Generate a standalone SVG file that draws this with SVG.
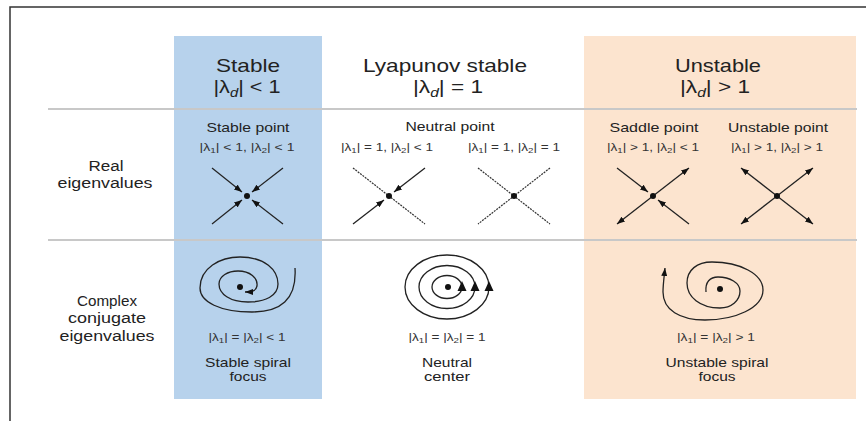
<svg xmlns="http://www.w3.org/2000/svg" width="866" height="421" viewBox="0 0 866 421">
<style>
text{font-family:"Liberation Sans",Arial,sans-serif;fill:#222;text-anchor:middle}
.h{font-size:19px}
.t{font-size:13px}
.l{font-size:10.5px;fill:#333}
.s{font-size:7.5px}
.side{font-size:14px}
.ln{stroke:#222;stroke-width:1.3;fill:none}
.dt{stroke:#333;stroke-width:1.2;stroke-dasharray:2 1;fill:none}
.sep{stroke:#c8c8c8;stroke-width:2}
.dot{fill:#111}
</style>
<defs>
<marker id="ah" markerUnits="userSpaceOnUse" markerWidth="8" markerHeight="6" refX="8" refY="3" orient="auto">
<path d="M0,0 L8,3 L0,6 z" fill="#111"/>
</marker>
</defs>
<rect width="866" height="421" fill="#fff"/>
<path d="M10,421 V7 H866" fill="none" stroke="#333" stroke-width="1.5"/>
<rect x="174" y="36" width="148" height="363" fill="#b7d2ec"/>
<rect x="584" y="36" width="272" height="363" fill="#fce4cf"/>
<line class="sep" x1="48" y1="109" x2="857" y2="109"/>
<line class="sep" x1="48" y1="240" x2="857" y2="240"/>

<g id="headers">
<text class="h" x="248" y="72" textLength="64" lengthAdjust="spacingAndGlyphs">Stable</text>
<text class="h" x="247" y="93" textLength="67" lengthAdjust="spacingAndGlyphs">|λ<tspan font-size="13" font-style="italic" dy="4">d</tspan><tspan dy="-4">| &lt; 1</tspan></text>
<text class="h" x="445" y="72" textLength="164" lengthAdjust="spacingAndGlyphs">Lyapunov stable</text>
<text class="h" x="448" y="93" textLength="70" lengthAdjust="spacingAndGlyphs">|λ<tspan font-size="13" font-style="italic" dy="4">d</tspan><tspan dy="-4">| = 1</tspan></text>
<text class="h" x="718" y="72" textLength="86" lengthAdjust="spacingAndGlyphs">Unstable</text>
<text class="h" x="715" y="93" textLength="70" lengthAdjust="spacingAndGlyphs">|λ<tspan font-size="13" font-style="italic" dy="4">d</tspan><tspan dy="-4">| &gt; 1</tspan></text>
</g>

<g id="row-labels">
<text class="side" x="106" y="171" textLength="35" lengthAdjust="spacingAndGlyphs">Real</text>
<text class="side" x="105" y="188" textLength="95" lengthAdjust="spacingAndGlyphs">eigenvalues</text>
<text class="side" x="107" y="306" textLength="60" lengthAdjust="spacingAndGlyphs">Complex</text>
<text class="side" x="107" y="323" textLength="78" lengthAdjust="spacingAndGlyphs">conjugate</text>
<text class="side" x="107" y="341" textLength="95" lengthAdjust="spacingAndGlyphs">eigenvalues</text>
</g>

<g id="stable-point">
<text class="t" x="248" y="132" textLength="83" lengthAdjust="spacingAndGlyphs">Stable point</text>
<text class="l" x="247" y="151" textLength="95" lengthAdjust="spacingAndGlyphs">|λ<tspan class="s" dy="2">1</tspan><tspan dy="-2">| &lt; 1, |λ</tspan><tspan class="s" dy="2">2</tspan><tspan dy="-2">| &lt; 1</tspan></text>
<line class="ln" x1="212" y1="168" x2="242" y2="192" marker-end="url(#ah)"/>
<line class="ln" x1="283" y1="168" x2="252" y2="192" marker-end="url(#ah)"/>
<line class="ln" x1="212" y1="224" x2="242" y2="200" marker-end="url(#ah)"/>
<line class="ln" x1="283" y1="224" x2="252" y2="200" marker-end="url(#ah)"/>
<circle class="dot" cx="247" cy="196" r="3"/>
</g>

<g id="neutral-point">
<text class="t" x="450" y="131" textLength="89" lengthAdjust="spacingAndGlyphs">Neutral point</text>
<text class="l" x="387" y="151" textLength="92" lengthAdjust="spacingAndGlyphs">|λ<tspan class="s" dy="2">1</tspan><tspan dy="-2">| = 1, |λ</tspan><tspan class="s" dy="2">2</tspan><tspan dy="-2">| &lt; 1</tspan></text>
<text class="l" x="514" y="151" textLength="92" lengthAdjust="spacingAndGlyphs">|λ<tspan class="s" dy="2">1</tspan><tspan dy="-2">| = 1, |λ</tspan><tspan class="s" dy="2">2</tspan><tspan dy="-2">| = 1</tspan></text>
<line class="dt" x1="353" y1="168" x2="425" y2="224"/>
<line class="ln" x1="425" y1="168" x2="394" y2="192" marker-end="url(#ah)"/>
<line class="ln" x1="353" y1="224" x2="384" y2="200" marker-end="url(#ah)"/>
<circle class="dot" cx="389" cy="196" r="3"/>
<line class="dt" x1="478" y1="168" x2="550" y2="224"/>
<line class="dt" x1="550" y1="168" x2="478" y2="224"/>
<circle class="dot" cx="514" cy="196" r="3"/>
</g>

<g id="saddle-point">
<text class="t" x="654" y="132" textLength="89" lengthAdjust="spacingAndGlyphs">Saddle point</text>
<text class="l" x="653" y="151" textLength="92" lengthAdjust="spacingAndGlyphs">|λ<tspan class="s" dy="2">1</tspan><tspan dy="-2">| &gt; 1, |λ</tspan><tspan class="s" dy="2">2</tspan><tspan dy="-2">| &lt; 1</tspan></text>
<line class="ln" x1="617" y1="168" x2="648" y2="192" marker-end="url(#ah)"/>
<line class="ln" x1="689" y1="224" x2="658" y2="200" marker-end="url(#ah)"/>
<line class="ln" x1="653" y1="196" x2="689" y2="168" marker-end="url(#ah)"/>
<line class="ln" x1="653" y1="196" x2="617" y2="224" marker-end="url(#ah)"/>
<circle class="dot" cx="653" cy="196" r="3"/>
</g>

<g id="unstable-point">
<text class="t" x="778" y="132" textLength="100" lengthAdjust="spacingAndGlyphs">Unstable point</text>
<text class="l" x="777" y="151" textLength="92" lengthAdjust="spacingAndGlyphs">|λ<tspan class="s" dy="2">1</tspan><tspan dy="-2">| &gt; 1, |λ</tspan><tspan class="s" dy="2">2</tspan><tspan dy="-2">| &gt; 1</tspan></text>
<line class="ln" x1="777" y1="196" x2="741" y2="168" marker-end="url(#ah)"/>
<line class="ln" x1="777" y1="196" x2="813" y2="168" marker-end="url(#ah)"/>
<line class="ln" x1="777" y1="196" x2="741" y2="224" marker-end="url(#ah)"/>
<line class="ln" x1="777" y1="196" x2="813" y2="224" marker-end="url(#ah)"/>
<circle class="dot" cx="777" cy="196" r="3"/>
</g>

<g id="stable-spiral">
<path class="ln" d="M295,268 C297,300 280,312 252,312 C220,312 200,302 200,288 C200,268 220,257 240,257 C265,257 278,270 278,284 C278,296 265,302 248,302 C230,302 219,294 219,284 C219,276 228,271 238,271 C250,271 258,278 257,286 C256,291 252,292 245,292" marker-end="url(#ah)"/>
<circle class="dot" cx="240" cy="287" r="3"/>
<text class="l" x="247" y="341" textLength="77" lengthAdjust="spacingAndGlyphs">|λ<tspan class="s" dy="2">1</tspan><tspan dy="-2">| = |λ</tspan><tspan class="s" dy="2">2</tspan><tspan dy="-2">| &lt; 1</tspan></text>
<text class="t" x="248" y="367" textLength="86" lengthAdjust="spacingAndGlyphs">Stable spiral</text>
<text class="t" x="248" y="381" textLength="37" lengthAdjust="spacingAndGlyphs">focus</text>
</g>

<g id="neutral-center">
<ellipse class="ln" cx="447" cy="287" rx="42" ry="32"/>
<ellipse class="ln" cx="447" cy="287" rx="28" ry="21.5"/>
<ellipse class="ln" cx="447" cy="287" rx="15" ry="11.5"/>
<circle class="dot" cx="448" cy="287" r="3"/>
<polygon points="457.5,291 466.5,291 462,281" fill="#111"/>
<polygon points="470.5,291 479.5,291 475,281" fill="#111"/>
<polygon points="484.5,291 493.5,291 489,281" fill="#111"/>
<text class="l" x="447" y="341" textLength="77" lengthAdjust="spacingAndGlyphs">|λ<tspan class="s" dy="2">1</tspan><tspan dy="-2">| = |λ</tspan><tspan class="s" dy="2">2</tspan><tspan dy="-2">| = 1</tspan></text>
<text class="t" x="447" y="367" textLength="50" lengthAdjust="spacingAndGlyphs">Neutral</text>
<text class="t" x="447" y="381" textLength="46" lengthAdjust="spacingAndGlyphs">center</text>
</g>

<g id="unstable-spiral">
<path class="ln" d="M706,292 C705,282 710,277 718,277 C730,277 740,283 740,291 C740,301 731,308 720,308 C700,308 687,297 687,283 C687,270 697,262 712,262 C740,262 763,274 763,290 C763,308 735,320 705,320 C680,320 663,310 663,292 C663,285 664,278 665,268" marker-end="url(#ah)"/>
<circle class="dot" cx="720" cy="289" r="3"/>
<text class="l" x="716" y="341" textLength="78" lengthAdjust="spacingAndGlyphs">|λ<tspan class="s" dy="2">1</tspan><tspan dy="-2">| = |λ</tspan><tspan class="s" dy="2">2</tspan><tspan dy="-2">| &gt; 1</tspan></text>
<text class="t" x="717" y="367" textLength="103" lengthAdjust="spacingAndGlyphs">Unstable spiral</text>
<text class="t" x="717" y="381" textLength="37" lengthAdjust="spacingAndGlyphs">focus</text>
</g>
</svg>
